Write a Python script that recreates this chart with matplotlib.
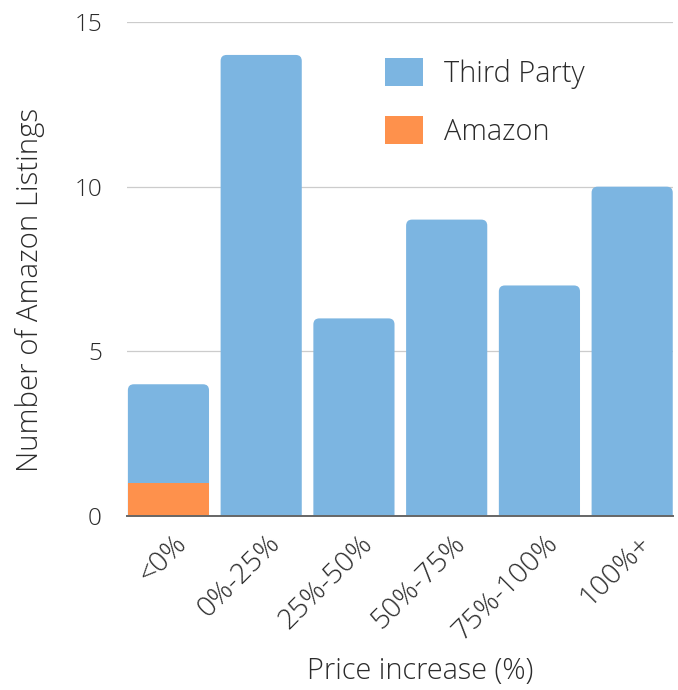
import matplotlib
matplotlib.use("Agg")
import matplotlib.pyplot as plt
import matplotlib.transforms as mtransforms
from matplotlib.patches import FancyBboxPatch, Patch
import numpy as np

categories = ["<0%", "0%-25%", "25%-50%", "50%-75%", "75%-100%", "100%+"]
amazon = [1, 0, 0, 0, 0, 0]
third_party = [3, 14, 6, 9, 7, 10]
yticks = [0, 5, 10, 15]

blue = "#7cb5e1"
orange = "#fe914c"
text_color = "#2b2b2b"

plt.rcParams['font.family'] = ['Open Sans', 'DejaVu Sans']

fig = plt.figure(figsize=(6.78, 6.90), dpi=100)
ax = fig.add_axes([0.1873, 0.2522, 0.9926 - 0.1873, 0.9681 - 0.2522])

x = np.arange(len(categories))
w = 0.875
ax.set_xlim(-0.447, 5.44)
ax.set_ylim(0, 15)

bars_a = ax.bar(x, amazon, width=w, color=orange, label="Amazon", zorder=4)
bars_t = ax.bar(x, third_party, width=w, bottom=amazon, color=blue, label="Third Party", zorder=3)

# rounded tops for the third-party bars
r_x = 0.065
aspect = (15 / 494) / (5.887 / 546)
for p in bars_t:
    x0, w0 = p.get_x(), p.get_width()
    top = p.get_y() + p.get_height()
    fb = FancyBboxPatch((x0 + r_x, -0.5 + r_x * aspect), w0 - 2 * r_x, top + 0.5 - 2 * r_x * aspect,
                        boxstyle=f"round,pad={r_x},rounding_size={r_x}",
                        mutation_aspect=aspect, facecolor=blue, edgecolor='none', zorder=3)
    ax.add_patch(fb)
    p.set_visible(False)

ax.set_yticks(yticks)
ax.set_yticklabels([str(v) for v in yticks], fontsize=17.5, fontweight='light', color=text_color)
ax.set_xticks(x)
ax.set_xticklabels(categories, rotation=45, ha='right', va='top', rotation_mode='anchor',
                   fontsize=20.5, fontweight='light', color=text_color)
ax.tick_params(axis='y', length=0, pad=18)
ax.tick_params(axis='x', length=0, pad=10)
offset = mtransforms.ScaledTranslation(5 / 100, 0, fig.dpi_scale_trans)
for lab in ax.get_xticklabels():
    lab.set_transform(lab.get_transform() + offset)

ax.grid(axis='y', color='#cccccc', linewidth=0.9, zorder=0)
for s in ['top', 'right', 'left']:
    ax.spines[s].set_visible(False)
ax.spines['bottom'].set_color('#666666')
ax.spines['bottom'].set_linewidth(1.4)
ax.spines['bottom'].set_zorder(5)

ax.set_ylabel("Number of Amazon Listings", fontsize=21.2, fontweight='light', color=text_color)
ax.yaxis.set_label_coords(-0.150, 0.4575)
ax.set_xlabel("Price increase (%)", fontsize=20.8, fontweight='light', color=text_color, labelpad=7)
ax.xaxis.label.set_x(0.5366)

handles = [Patch(facecolor=blue, edgecolor='none'), Patch(facecolor=orange, edgecolor='none')]
labels = ["Third Party", "Amazon"]
leg = ax.legend(handles, labels, loc='upper left', bbox_to_anchor=(0.4515, 0.95),
                frameon=False, fontsize=20.8, handlelength=1.3, handleheight=1.1,
                handletextpad=0.75, labelspacing=0.95, borderaxespad=0)
for t in leg.get_texts():
    t.set_color(text_color)
    t.set_fontweight('light')

fig.savefig("out.png", dpi=100)
